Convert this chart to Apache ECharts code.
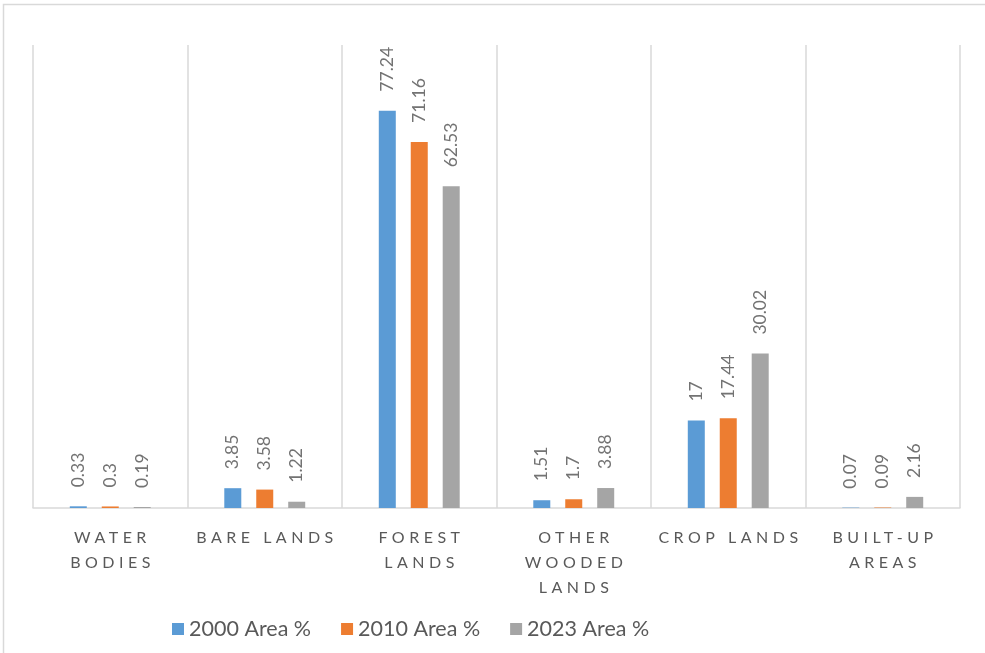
<!DOCTYPE html>
<html>
<head>
<meta charset="utf-8">
<script src="https://cdn.jsdelivr.net/npm/echarts@6/dist/echarts.min.js"></script>
<style>html,body{margin:0;padding:0;background:#fff;}#c{width:985px;height:653px;}</style>
</head>
<body>
<div id="c"></div>
<script>
const categories = ['WATER\nBODIES', 'BARE LANDS', 'FOREST\nLANDS', 'OTHER\nWOODED\nLANDS', 'CROP LANDS', 'BUILT-UP\nAREAS'];
const seriesNames = ['2000 Area %', '2010 Area %', '2023 Area %'];
const values2000 = [0.33, 3.85, 77.24, 1.51, 17, 0.07];
const values2010 = [0.3, 3.58, 71.16, 1.7, 17.44, 0.09];
const values2023 = [0.19, 1.22, 62.53, 3.88, 30.02, 2.16];
const colors = ['#5B9BD5', '#ED7D31', '#A5A5A5'];

// letter spacing for category labels only (keyed by their font family)
(function(){
  const P = CanvasRenderingContext2D.prototype;
  const orig = P.fillText;
  P.fillText = function(t, x, y, m){
    const spaced = this.font && this.font.indexOf('Roboto') >= 0;
    const want = spaced ? '4.5px' : '0px';
    if ('letterSpacing' in this && this.letterSpacing !== want) {
      const f = this.font;
      this.letterSpacing = want;
      this.font = f;
    }
    const dx = spaced ? 2.25 : 0;
    return m === undefined ? orig.call(this, t, x + dx, y) : orig.call(this, t, x + dx, y, m);
  };
})();

const chart = echarts.init(document.getElementById('c'), null, {renderer: 'canvas'});
const allVals = [values2000, values2010, values2023];
const labelCfg = {
  show: true, position: 'top', rotate: 90, align: 'left', verticalAlign: 'middle',
  distance: 19, color: '#737373', fontFamily: 'Lato', fontSize: 17.5
};
chart.setOption({
  animation: false,
  backgroundColor: '#fff',
  graphic: [{type: 'rect', left: 1, top: 2, shape: {width: 1100, height: 800}, style: {fill: 'none', stroke: '#D9D9D9', lineWidth: 1.5}, silent: true}],
  grid: {left: 33, right: 25, top: 45, bottom: 145},
  legend: {
    left: 167, top: 613, itemWidth: 12, itemHeight: 12, itemGap: 30, icon: 'rect',
    textStyle: {color: '#595959', fontFamily: 'Lato', fontSize: 21.5}
  },
  xAxis: {
    type: 'category', data: categories,
    axisLine: {lineStyle: {color: '#D9D9D9', width: 1.5}},
    axisTick: {show: false},
    splitLine: {show: true, lineStyle: {color: '#D9D9D9', width: 1.5}},
    axisLabel: {color: '#595959', fontFamily: 'Lato, Roboto', fontSize: 16, lineHeight: 25, margin: 17, interval: 0}
  },
  yAxis: {type: 'value', min: 0, max: 90, show: false, splitLine: {show: false}},
  series: seriesNames.map((n, i) => ({
    name: n, type: 'bar', data: allVals[i], barWidth: 17, barGap: '88%',
    itemStyle: {color: colors[i]}, label: labelCfg
  }))
});
</script>
</body>
</html>
